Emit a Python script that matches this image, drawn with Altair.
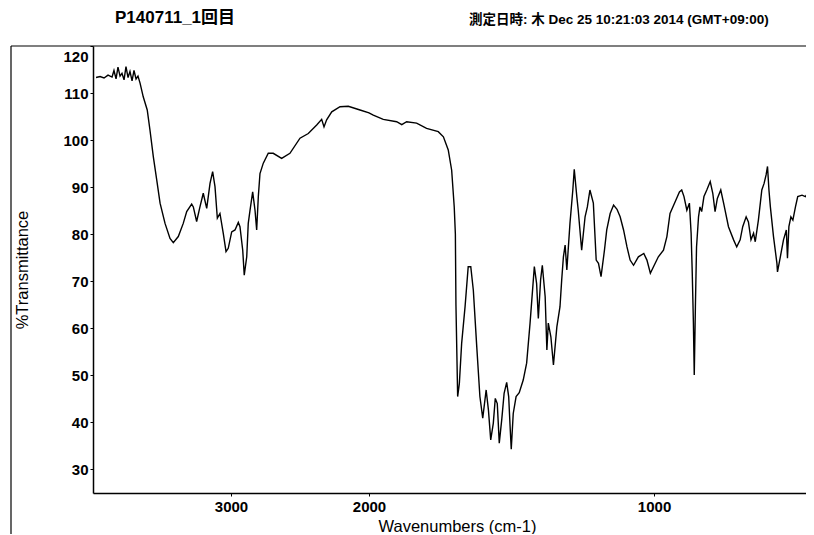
import altair as alt
import pandas as pd

# ---- data ----
wavenumber = [
    3978, 3949, 3920, 3891, 3862, 3848, 3833, 3819, 3804, 3790, 3775, 3761, 3746, 3732,
    3717, 3703, 3688, 3674, 3659, 3636, 3607, 3587, 3563, 3538, 3514, 3478, 3442, 3418,
    3382, 3346, 3321, 3285, 3273, 3249, 3225, 3201, 3176, 3152, 3133, 3116, 3099, 3080,
    3056, 3036, 3020, 2995, 2971, 2947, 2935, 2915, 2904, 2886, 2875, 2862, 2843, 2826,
    2814, 2802, 2790, 2766, 2730, 2694, 2633, 2573, 2500, 2440, 2379, 2343, 2326, 2307,
    2270, 2210, 2150, 2065, 2000,
    1985, 1950, 1903, 1885, 1868, 1833, 1798, 1757, 1739, 1722, 1710, 1701, 1697, 1695,
    1691, 1689, 1683, 1675, 1663, 1652, 1643, 1634, 1622, 1611, 1601, 1589, 1581, 1573,
    1564, 1557, 1550, 1543, 1534, 1526, 1517, 1510, 1505, 1501, 1494, 1484, 1473, 1459,
    1447, 1435, 1420, 1412, 1406, 1398, 1392, 1382, 1376, 1371, 1362, 1353, 1341, 1330,
    1324, 1318, 1312, 1306, 1295, 1285, 1280, 1271, 1266, 1254, 1242, 1234, 1225, 1213,
    1203, 1195, 1186, 1174, 1166, 1154, 1142, 1130, 1119, 1107, 1095, 1084, 1072, 1055,
    1036, 1025, 1013, 1002, 985, 967, 955, 944, 926, 911, 903, 895, 885, 876,
    870, 866, 862, 859, 855, 851, 844, 839, 833, 825, 815, 803, 794, 786,
    778, 766, 756, 739, 721, 710, 698, 689, 677, 669, 660, 651, 645, 634,
    622, 614, 607, 602, 597, 592, 581, 569, 567, 557, 546, 536, 532, 527,
    520, 513, 504, 496, 481, 469, 457, 449, 440,
]
transmittance = [
    113.3, 113.5, 113.2, 113.8, 113.4, 114.8, 113.0, 115.5, 113.6, 114.2, 112.8, 115.6, 113.3, 114.6,
    112.6, 114.8, 113.0, 113.6, 112.1, 109.2, 106.4, 102.1, 96.5, 91.5, 86.6, 82.3, 79.1, 78.2,
    79.5, 82.3, 84.8, 86.4, 85.8, 82.7, 85.8, 88.7, 85.5, 90.8, 93.3, 90.1, 83.4, 84.4,
    80.2, 76.3, 77.0, 80.5, 80.9, 82.5, 81.6, 76.6, 71.3, 75.2, 82.3, 85.1, 89.0, 85.1,
    80.9, 88.0, 92.9, 95.1, 97.2, 97.2, 96.1, 97.2, 100.4, 101.4, 103.2, 104.4, 102.8, 104.3,
    106.0, 107.1, 107.2, 106.4, 105.8,
    105.3, 104.4, 103.9, 103.3, 103.9, 103.6, 102.5, 101.8, 100.7, 97.9, 93.6, 85.8, 80.0, 65.0,
    52.0, 45.5, 48.3, 56.8, 64.6, 73.1, 73.1, 68.1, 56.1, 45.5, 40.9, 46.9, 42.6, 36.3,
    39.8, 45.1, 44.0, 35.6, 40.8, 46.2, 48.5, 45.5, 39.1, 34.3, 41.9, 45.5, 46.3, 49.0,
    52.6, 61.1, 73.1, 69.5, 62.1, 70.3, 73.4, 66.7, 55.4, 61.1, 58.2, 52.2, 60.3, 64.6,
    70.3, 75.2, 77.7, 72.4, 82.3, 89.4, 93.8, 88.0, 85.1, 76.6, 83.7, 85.8, 89.4, 86.6,
    74.5, 73.8, 71.0, 76.6, 80.9, 84.4, 86.2, 85.3, 83.7, 80.9, 77.3, 74.5, 73.4, 75.2,
    75.9, 74.5, 71.7, 73.1, 75.2, 76.6, 79.5, 84.4, 86.9, 89.0, 89.4, 88.0, 85.1, 86.6,
    80.2, 71.7, 61.1, 50.1, 64.6, 77.3, 83.7, 85.8, 84.8, 88.0, 89.4, 91.2, 88.7, 84.8,
    87.6, 89.4, 86.6, 81.6, 78.8, 77.3, 78.8, 81.6, 83.7, 82.6, 78.8, 80.2, 78.4, 83.0,
    89.4, 90.8, 92.6, 94.4, 89.4, 85.8, 79.5, 73.8, 72.0, 75.2, 78.8, 80.9, 74.9, 81.6,
    83.7, 83.0, 85.8, 88.0, 88.3, 88.0, 89.0, 87.6, 85.1,
]
x_ticks = [3000, 2000, 1000]
y_ticks = [30, 40, 50, 60, 70, 80, 90, 100, 110, 120]
title_text = ["P140711_1回目"]
date_text = ["測定日時: 木 Dec 25 10:21:03 2014 (GMT+09:00)"]

df = pd.DataFrame({"wn": wavenumber, "t": transmittance})

FONT = "Liberation Sans, Arial, Noto Sans CJK JP, sans-serif"
W, H = 713, 447

x_scale = alt.Scale(domain=[4000, 2000, 467], range=[0, 276, W])
y_scale = alt.Scale(domain=[25, 120], nice=False, zero=False)

line = alt.Chart(df).mark_line(color="black", strokeWidth=1.4, clip=True).encode(
    x=alt.X("wn:Q", scale=x_scale,
            axis=alt.Axis(values=x_ticks, format="d", title="Wavenumbers (cm-1)",
                          grid=False, tickSize=3, labelPadding=3,
                          labelFontSize=15,
                          titleX=364, titleY=33, titleBaseline="middle",
                          titleAlign="center")),
    y=alt.Y("t:Q", scale=y_scale,
            axis=alt.Axis(values=y_ticks, title="%Transmittance", grid=False,
                          tickSize=3, labelPadding=2, labelFlush=True,
                          labelFlushOffset=-3, labelFontSize=15,
                          titleX=-71, titleY=H / 2, titleAngle=-90,
                          titleAlign="center", titleBaseline="middle")),
)

title_mark = alt.Chart(pd.DataFrame({"label": title_text})).mark_text(
    align="left", baseline="middle", fontSize=17, fontWeight="bold",
    font=FONT, color="black"
).encode(x=alt.value(22), y=alt.value(-28), text="label:N")

date_mark = alt.Chart(pd.DataFrame({"label": date_text})).mark_text(
    align="left", baseline="middle", fontSize=13.5, fontWeight="bold",
    font=FONT, color="black"
).encode(x=alt.value(376), y=alt.value(-26), text="label:N")

top_rule = alt.Chart(pd.DataFrame({"a": [0]})).mark_rule(
    color="black", strokeWidth=1.2
).encode(x=alt.value(-82), x2=alt.value(W), y=alt.value(0))

left_rule = alt.Chart(pd.DataFrame({"a": [0]})).mark_rule(
    color="black", strokeWidth=1.2
).encode(x=alt.value(-82), y=alt.value(0), y2=alt.value(H + 41))

chart = alt.layer(top_rule, left_rule, line, title_mark, date_mark).properties(
    width=W, height=H,
    autosize=alt.AutoSizeParams(type="none"),
    padding={"left": 85, "top": 38, "right": 0, "bottom": 41},
).configure_view(stroke=None).configure_axis(
    domainColor="black", domainWidth=1.5, tickColor="black",
    labelFont=FONT, labelFontWeight="bold", labelColor="black",
    titleFont=FONT, titleFontSize=16.5, titleFontWeight="normal", titleColor="black",
)

chart.save("out.html", embed_options={"renderer": "svg", "actions": False})
